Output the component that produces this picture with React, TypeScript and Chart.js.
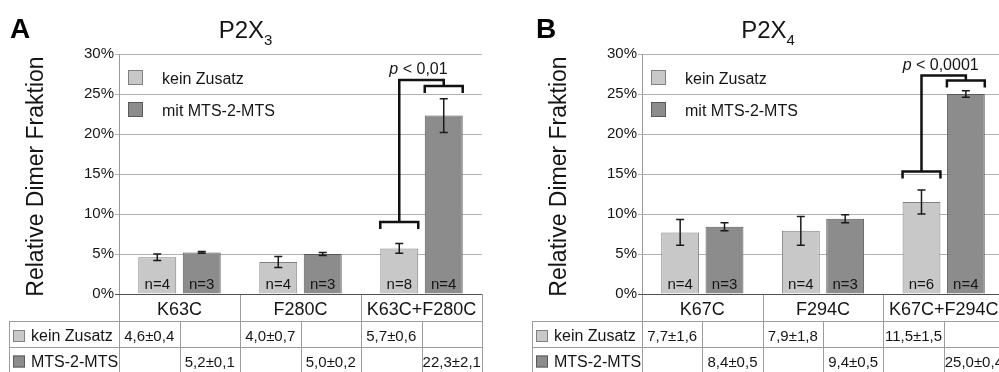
import React, { useEffect, useRef } from "react";
import { Chart, registerables } from "chart.js";

Chart.register(...registerables);

const FONT = '"Liberation Sans", Arial, Helvetica, sans-serif';
Chart.defaults.font.family = FONT;

// ---------- data ----------
const seriesLabels = ["kein Zusatz", "mit MTS-2-MTS"];
const tableRowLabels = ["kein Zusatz", "MTS-2-MTS"];
const yMin = 0;
const yMax = 30;
const yStep = 5;

const categoriesA = ["K63C", "F280C", "K63C+F280C"];
const keinA = [4.6, 4.0, 5.7];
const keinErrA = [0.4, 0.7, 0.6];
const mtsA = [5.2, 5.0, 22.3];
const mtsErrA = [0.1, 0.2, 2.1];
const nKeinA = [4, 4, 8];
const nMtsA = [3, 3, 4];
// bracket levels (in %): low bracket over kein bar, bracket over MTS bar, top joint
const bracketLevelsA = [9.0, 26.0, 26.75];
const pValueA = "< 0,01";

const categoriesB = ["K67C", "F294C", "K67C+F294C"];
const keinB = [7.7, 7.9, 11.5];
const keinErrB = [1.6, 1.8, 1.5];
const mtsB = [8.4, 9.4, 25.0];
const mtsErrB = [0.5, 0.5, 0.4];
const nKeinB = [4, 4, 6];
const nMtsB = [3, 3, 4];
const bracketLevelsB = [15.3, 26.7, 27.3];
const pValueB = "< 0,0001";

// ---------- styles ----------
const KEIN_FILL = "#c8c8c8";
const KEIN_BORDER = "#808080";
const MTS_FILL = "#8c8c8c";
const MTS_BORDER = "#5a5a5a";
const TEXT = "#151515";
const H = 372;

function fmt(v: number, e: number) {
  return v.toFixed(1).replace(".", ",") + "±" + e.toFixed(1).replace(".", ",");
}

interface PanelProps {
  left: number;
  width: number;
  chartLeft: number;
  chartRight: number;
  tableLeft: number;
  letterX: number;
  letter: string;
  titleMain: string;
  titleSub: string;
  categories: string[];
  kein: number[];
  keinErr: number[];
  mts: number[];
  mtsErr: number[];
  nKein: number[];
  nMts: number[];
  bracket: number[];
  pText: string;
}

function Panel(p: PanelProps) {
  const ref = useRef<HTMLCanvasElement>(null);
  useEffect(() => {
    const canvas = ref.current!;
    const plugin = {
      id: "custom",
      afterDraw(chart: any) {
        const ctx: CanvasRenderingContext2D = chart.ctx;
        const { left, right, top, bottom } = chart.chartArea;
        const y = chart.scales.y;
        ctx.save();

        // error bars and n labels
        const sets = [
          [p.kein, p.keinErr, p.nKein],
          [p.mts, p.mtsErr, p.nMts],
        ];
        sets.forEach(([vals, errs, ns], di) => {
          const meta = chart.getDatasetMeta(di);
          meta.data.forEach((el: any, i: number) => {
            const cx = el.x;
            const yT = y.getPixelForValue(vals[i] + errs[i]);
            const yB = y.getPixelForValue(vals[i] - errs[i]);
            ctx.strokeStyle = "#1a1a1a";
            ctx.lineWidth = 1.5;
            ctx.beginPath();
            ctx.moveTo(cx, yT);
            ctx.lineTo(cx, yB);
            ctx.moveTo(cx - 4, yT);
            ctx.lineTo(cx + 4, yT);
            ctx.moveTo(cx - 4, yB);
            ctx.lineTo(cx + 4, yB);
            ctx.stroke();
            ctx.fillStyle = TEXT;
            ctx.font = `15px ${FONT}`;
            ctx.textAlign = "center";
            ctx.textBaseline = "alphabetic";
            ctx.fillText("n=" + ns[i], cx, bottom - 5);
          });
        });

        // significance bracket on last category
        const bi = p.categories.length - 1;
        const k = chart.getDatasetMeta(0).data[bi];
        const m = chart.getDatasetMeta(1).data[bi];
        const hw = k.width / 2;
        const yLow = y.getPixelForValue(p.bracket[0]);
        const yHigh = y.getPixelForValue(p.bracket[1]);
        const yTop = y.getPixelForValue(p.bracket[2]);
        ctx.strokeStyle = "#111";
        ctx.lineWidth = 2.5;
        ctx.lineJoin = "miter";
        ctx.lineCap = "butt";
        ctx.beginPath();
        ctx.moveTo(k.x - hw, yLow + 7);
        ctx.lineTo(k.x - hw, yLow);
        ctx.lineTo(k.x + hw, yLow);
        ctx.lineTo(k.x + hw, yLow + 7);
        ctx.stroke();
        ctx.beginPath();
        ctx.moveTo(k.x, yLow);
        ctx.lineTo(k.x, yTop);
        ctx.lineTo(m.x, yTop);
        ctx.lineTo(m.x, yHigh);
        ctx.stroke();
        ctx.beginPath();
        ctx.moveTo(m.x - hw, yHigh + 7);
        ctx.lineTo(m.x - hw, yHigh);
        ctx.lineTo(m.x + hw, yHigh);
        ctx.lineTo(m.x + hw, yHigh + 7);
        ctx.stroke();

        // p text
        ctx.fillStyle = TEXT;
        ctx.textAlign = "left";
        ctx.font = `italic 16px ${FONT}`;
        const wp = ctx.measureText("p").width;
        ctx.font = `16px ${FONT}`;
        const rest = " " + p.pText;
        const wr = ctx.measureText(rest).width;
        const pcx = (k.x + m.x) / 2 - 3;
        const sx = pcx - (wp + wr) / 2;
        ctx.font = `italic 16px ${FONT}`;
        ctx.fillText("p", sx, yTop - 6);
        ctx.font = `16px ${FONT}`;
        ctx.fillText(rest, sx + wp, yTop - 6);

        // legend
        const legend = [
          [KEIN_FILL, KEIN_BORDER, seriesLabels[0]],
          [MTS_FILL, MTS_BORDER, seriesLabels[1]],
        ];
        legend.forEach(([fill, border, label], i) => {
          const sy = top + 16 + i * 32;
          ctx.fillStyle = fill;
          ctx.fillRect(left + 9, sy, 15, 15);
          ctx.strokeStyle = border;
          ctx.lineWidth = 1;
          ctx.strokeRect(left + 9.5, sy + 0.5, 14, 14);
          ctx.fillStyle = TEXT;
          ctx.font = `16px ${FONT}`;
          ctx.textAlign = "left";
          ctx.fillText(label, left + 43, sy + 14);
        });

        // panel letter
        ctx.fillStyle = "#000";
        ctx.font = `bold 28px ${FONT}`;
        ctx.textAlign = "left";
        ctx.fillText(p.letter, p.letterX, 38);

        // title with subscript
        ctx.font = `24px ${FONT}`;
        const wm = ctx.measureText(p.titleMain).width;
        ctx.font = `15px ${FONT}`;
        const ws = ctx.measureText(p.titleSub).width;
        const tcx = (p.tableLeft + right) / 2;
        const tx = tcx - (wm + ws) / 2;
        ctx.fillStyle = TEXT;
        ctx.font = `24px ${FONT}`;
        ctx.fillText(p.titleMain, tx, 38);
        ctx.font = `15px ${FONT}`;
        ctx.fillText(p.titleSub, tx + wm, 45);

        // y title
        ctx.save();
        ctx.translate(left - 76, (top + bottom) / 2 + 2.5);
        ctx.rotate(-Math.PI / 2);
        ctx.font = `23px ${FONT}`;
        ctx.textAlign = "center";
        ctx.fillStyle = TEXT;
        ctx.fillText("Relative Dimer Fraktion", 0, 0);
        ctx.restore();

        // table
        const nCat = p.categories.length;
        const catW = (right - left) / nCat;
        const r1 = bottom + 27;
        const r2 = bottom + 53;
        ctx.strokeStyle = "#9c9c9c";
        ctx.lineWidth = 1;
        ctx.beginPath();
        ctx.moveTo(p.tableLeft, Math.round(r1) + 0.5);
        ctx.lineTo(right, Math.round(r1) + 0.5);
        ctx.moveTo(p.tableLeft, Math.round(r2) + 0.5);
        ctx.lineTo(right, Math.round(r2) + 0.5);
        ctx.moveTo(p.tableLeft + 0.5, r1);
        ctx.lineTo(p.tableLeft + 0.5, H);
        for (let i = 0; i <= nCat; i++) {
          const bx = Math.round(left + i * catW) + 0.5;
          ctx.moveTo(bx, bottom);
          ctx.lineTo(bx, H);
          if (i < nCat) {
            const hx = Math.round(left + (i + 0.5) * catW) + 0.5;
            ctx.moveTo(hx, r1);
            ctx.lineTo(hx, H);
          }
        }
        ctx.stroke();
        ctx.strokeStyle = "#505050";
        ctx.beginPath();
        ctx.moveTo(left - 4, Math.round(bottom) + 0.5);
        ctx.lineTo(right, Math.round(bottom) + 0.5);
        ctx.stroke();

        ctx.fillStyle = TEXT;
        ctx.textAlign = "center";
        ctx.font = `18px ${FONT}`;
        p.categories.forEach((c, i) => {
          ctx.fillText(c, left + (i + 0.5) * catW, bottom + 21);
        });

        const rowBase = [r1 + 20, r2 + 19.5];
        const rowFill = [KEIN_FILL, MTS_FILL];
        const rowBorder = [KEIN_BORDER, MTS_BORDER];
        tableRowLabels.forEach((lab, ri) => {
          const sy = rowBase[ri] - 11;
          ctx.fillStyle = rowFill[ri];
          ctx.fillRect(p.tableLeft + 4, sy, 12, 12);
          ctx.strokeStyle = rowBorder[ri];
          ctx.strokeRect(p.tableLeft + 4.5, sy + 0.5, 11, 11);
          ctx.fillStyle = TEXT;
          ctx.textAlign = "left";
          ctx.font = `16px ${FONT}`;
          ctx.fillText(lab, p.tableLeft + 22, rowBase[ri]);
        });
        ctx.textAlign = "center";
        ctx.font = `15px ${FONT}`;
        p.categories.forEach((_, i) => {
          ctx.fillText(fmt(p.kein[i], p.keinErr[i]), left + (i + 0.25) * catW, rowBase[0]);
          ctx.fillText(fmt(p.mts[i], p.mtsErr[i]), left + (i + 0.75) * catW, rowBase[1]);
        });

        ctx.restore();
      },
    };

    const chart = new Chart(canvas, {
      type: "bar",
      data: {
        labels: p.categories,
        datasets: [
          {
            label: seriesLabels[0],
            data: p.kein,
            backgroundColor: KEIN_FILL,
            borderColor: KEIN_BORDER,
            borderWidth: 1,
            categoryPercentage: 0.735,
            barPercentage: 0.854,
          },
          {
            label: seriesLabels[1],
            data: p.mts,
            backgroundColor: MTS_FILL,
            borderColor: MTS_BORDER,
            borderWidth: 1,
            categoryPercentage: 0.735,
            barPercentage: 0.854,
          },
        ],
      },
      options: {
        responsive: false,
        animation: false,
        devicePixelRatio: 1,
        layout: { padding: { top: 54, right: p.width - p.chartRight, left: 0, bottom: 0 } },
        plugins: { legend: { display: false }, tooltip: { enabled: false }, title: { display: false } },
        scales: {
          x: {
            type: "category",
            grid: { display: false },
            border: { display: false },
            ticks: { display: false },
            afterFit: (s: any) => {
              s.height = H - 294;
            },
          },
          y: {
            min: yMin,
            max: yMax,
            ticks: {
              stepSize: yStep,
              callback: (v: any) => v + "%",
              font: { size: 15, family: FONT },
              color: TEXT,
              padding: 1,
            },
            grid: { color: "#b2b2b2", tickLength: 4, lineWidth: 1 },
            border: { color: "#9a9a9a" },
            afterFit: (s: any) => {
              s.width = p.chartLeft;
            },
          },
        },
      },
      plugins: [plugin],
    } as any);
    return () => chart.destroy();
  }, []);
  return (
    <canvas
      ref={ref}
      width={p.width}
      height={H}
      style={{ position: "absolute", left: p.left, top: 0, width: p.width, height: H }}
    />
  );
}

export default function App() {
  return (
    <div
      style={{
        position: "fixed",
        left: 0,
        top: 0,
        width: 999,
        height: H,
        overflow: "hidden",
        background: "#fff",
      }}
    >
      <Panel
        left={0}
        width={500}
        chartLeft={119}
        chartRight={482}
        tableLeft={9}
        letterX={10}
        letter="A"
        titleMain="P2X"
        titleSub="3"
        categories={categoriesA}
        kein={keinA}
        keinErr={keinErrA}
        mts={mtsA}
        mtsErr={mtsErrA}
        nKein={nKeinA}
        nMts={nMtsA}
        bracket={bracketLevelsA}
        pText={pValueA}
      />
      <Panel
        left={500}
        width={510}
        chartLeft={142}
        chartRight={504}
        tableLeft={32}
        letterX={36}
        letter="B"
        titleMain="P2X"
        titleSub="4"
        categories={categoriesB}
        kein={keinB}
        keinErr={keinErrB}
        mts={mtsB}
        mtsErr={mtsErrB}
        nKein={nKeinB}
        nMts={nMtsB}
        bracket={bracketLevelsB}
        pText={pValueB}
      />
    </div>
  );
}
